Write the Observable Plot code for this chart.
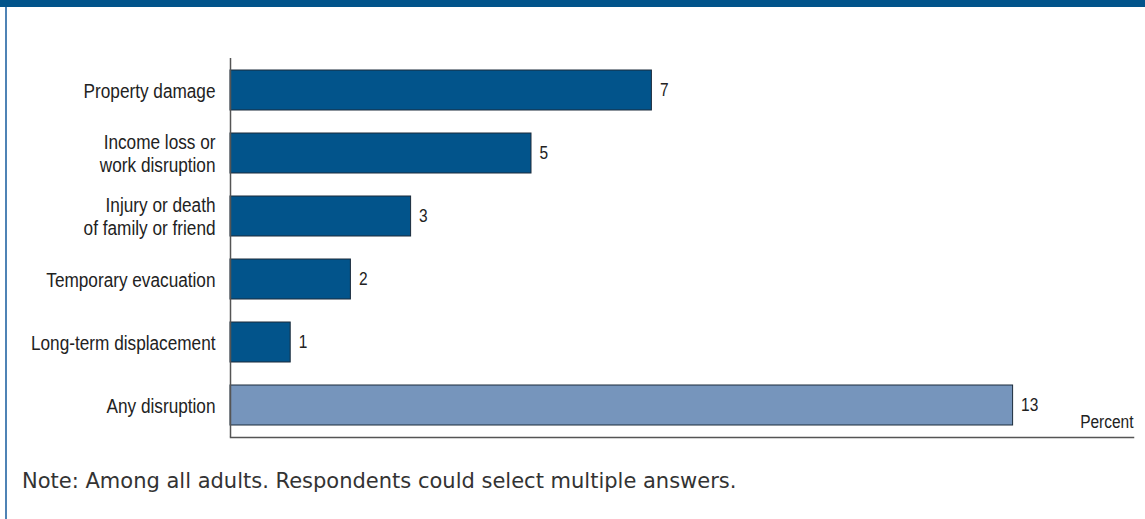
<!DOCTYPE html>
<html>
<head>
<meta charset="utf-8">
<script src="https://cdn.jsdelivr.net/npm/d3@7"></script>
<script src="https://cdn.jsdelivr.net/npm/@observablehq/plot@0.6"></script>
<style>
  html, body { margin: 0; padding: 0; background: #fff; }
  #frame { position: relative; width: 1145px; height: 519px; overflow: hidden; background: #fff; }
  #topband { position: absolute; left: 0; top: 0; width: 1145px; height: 7px; background: #02548b; }
  #leftband { position: absolute; left: 5px; top: 7px; width: 2px; height: 512px; background: #4f83b5; }
  #chart { position: absolute; left: 0; top: 0; }
  #note { position: absolute; left: 22px; top: 470px; font-family: "DejaVu Sans", sans-serif; font-size: 21px; line-height: 22px; color: #333; white-space: nowrap; }
</style>
</head>
<body>
<div id="frame">
  <div id="topband"></div>
  <div id="leftband"></div>
  <div id="chart"></div>
  <div id="note">Note: Among all adults. Respondents could select multiple answers.</div>
</div>
<script>
const categories = [
  "Property damage",
  "Income loss or\nwork disruption",
  "Injury or death\nof family or friend",
  "Temporary evacuation",
  "Long-term displacement",
  "Any disruption"
];
const values = [7, 5, 3, 2, 1, 13];
const barColors = ["#02548b", "#02548b", "#02548b", "#02548b", "#02548b", "#7695bc"];
const unitLabel = "Percent";

const data = categories.map((c, i) => ({category: c, value: values[i], color: barColors[i]}));

const chart = Plot.plot({
  width: 1145,
  height: 450,
  marginLeft: 230,
  marginRight: 12,
  marginTop: 58,
  marginBottom: 13,
  style: {fontFamily: "'Liberation Sans', Arial, sans-serif", fontSize: "20px", color: "#222", background: "transparent"},
  x: {domain: [0, 15], axis: null},
  y: {domain: categories, paddingInner: 0.365, paddingOuter: 0.19, label: null, axis: null},
  marks: [
    Plot.axisY({tickSize: 0, tickPadding: 15, label: null, fontSize: 20, lineHeight: 1.12}),
    Plot.barX(data, {x: "value", y: "category", fill: "color", stroke: "#1b2b3b", strokeWidth: 1}),
    Plot.text(data, {x: "value", y: "category", text: d => String(d.value), dx: 8, textAnchor: "start", fontSize: 18, fill: "#222"}),
    Plot.ruleX([0], {stroke: "#555", strokeWidth: 1.5}),
    Plot.frame({anchor: "bottom", stroke: "#555", strokeWidth: 1.5}),
    Plot.text([unitLabel], {frameAnchor: "bottom-right", text: d => d, lineAnchor: "bottom", dy: -10, fontSize: 18, fill: "#222"})
  ]
});
document.getElementById("chart").appendChild(chart);

// condense text horizontally to imitate the narrow typeface of the original
chart.querySelectorAll("text").forEach(t => {
  const spans = t.querySelectorAll("tspan");
  const targets = spans.length ? Array.from(spans) : [t];
  targets.forEach(el => {
    const len = el.getComputedTextLength();
    if (len > 0) {
      el.setAttribute("textLength", (len * 0.86).toFixed(2));
      el.setAttribute("lengthAdjust", "spacingAndGlyphs");
    }
  });
});
</script>
</body>
</html>
